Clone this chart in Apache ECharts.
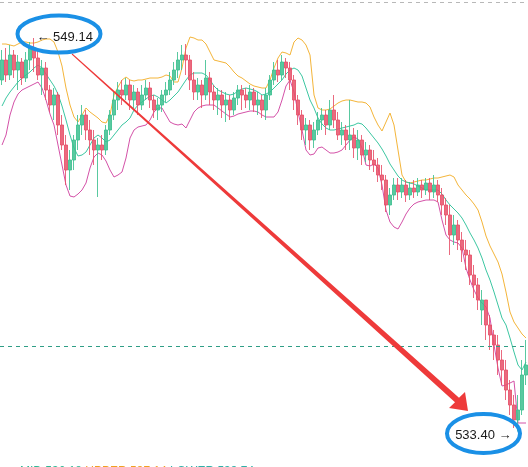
<!DOCTYPE html>
<html>
<head>
<meta charset="utf-8">
<script src="https://cdn.jsdelivr.net/npm/echarts@6/dist/echarts.min.js"></script>
<style>
html,body{margin:0;padding:0;background:#fff;}
#c{width:528px;height:467px;}
</style>
</head>
<body>
<div id="c"></div>
<script>
// [open, close, low, high]
const ohlc = [
[547.46,548.26,547.26,548.66],[548.26,547.66,547.38,548.74],[547.66,548.46,547.46,548.86],[548.46,547.86,547.54,548.66],
[547.86,548.18,547.06,548.46],[548.18,547.54,547.26,548.34],[547.54,548.26,547.38,548.58],[548.26,548.74,547.86,548.98],
[548.74,548.34,547.78,549.14],[548.34,547.66,547.46,548.66],[547.66,547.94,546.86,548.26],[547.94,547.06,546.66,548.18],
[547.06,546.46,546.18,547.26],[546.46,546.86,545.86,547.14],[546.86,545.66,545.26,546.98],[545.66,544.86,544.66,546.06],
[544.86,543.86,543.26,545.26],[543.86,544.26,543.06,544.66],[544.26,545.06,543.86,545.26],[545.06,545.66,544.66,546.06],
[545.66,546.06,545.26,546.46],[546.06,545.46,545.06,546.26],[545.46,545.06,544.46,545.86],[545.06,544.66,544.06,545.46],
[544.66,544.86,542.78,545.14],[544.86,544.66,544.26,545.26],[544.66,545.46,544.46,545.66],[545.46,546.06,545.26,546.26],
[546.06,546.66,545.86,546.98],[546.66,547.06,546.26,547.38],[547.06,546.86,546.46,547.46],[546.86,547.26,546.66,547.54],
[547.26,546.66,546.26,547.46],[546.66,546.98,546.34,547.26],[546.98,546.46,546.06,547.14],[546.46,546.86,546.26,547.26],
[546.86,547.14,546.66,547.46],[547.14,546.66,546.34,547.38],[546.66,546.26,545.94,546.86],[546.26,546.46,545.86,546.74],
[546.46,546.86,546.18,547.06],[546.86,547.06,546.58,547.38],[547.06,547.46,546.86,547.78],[547.46,547.86,547.26,548.18],
[547.86,548.26,547.54,548.58],[548.26,548.46,547.86,548.86],[548.46,548.26,547.66,548.90],[548.26,547.46,547.06,548.46],
[547.46,546.98,546.66,547.78],[546.98,547.26,546.66,547.54],[547.26,546.86,546.34,547.46],[546.86,547.54,546.66,548.26],
[547.54,546.98,546.46,547.78],[546.98,546.66,546.26,547.26],[546.66,546.86,546.06,547.14],[546.86,546.46,545.94,547.06],
[546.46,546.66,545.78,546.98],[546.66,546.26,545.86,546.86],[546.26,546.74,546.06,546.98],[546.74,547.06,546.46,547.26],
[547.06,546.86,546.26,547.26],[546.86,546.66,546.34,547.14],[546.66,546.98,546.26,547.26],[546.98,546.46,546.18,547.14],
[546.46,546.66,546.06,546.98],[546.66,546.26,545.94,546.86],[546.26,546.86,545.86,547.14],[546.86,547.46,546.66,547.66],
[547.46,547.86,547.26,548.18],[547.86,547.66,547.38,548.26],[547.66,548.18,547.46,548.46],[548.18,547.94,547.54,548.34],
[547.94,547.46,547.06,548.18],[547.46,546.66,546.26,547.66],[546.66,546.06,545.66,546.86],[546.06,545.46,545.06,546.26],
[545.46,545.66,544.86,545.94],[545.66,545.06,544.66,545.86],[545.06,545.46,544.74,545.78],[545.46,545.86,545.26,546.18],
[545.86,546.06,545.46,546.34],[546.06,545.66,545.26,546.26],[545.66,546.26,545.46,546.66],[546.26,545.86,545.54,546.86],
[545.86,545.26,545.06,546.18],[545.26,545.46,544.86,545.78],[545.46,545.06,544.66,545.66],[545.06,545.26,544.66,546.66],
[545.26,544.74,544.34,545.54],[544.74,545.06,544.26,545.46],[545.06,544.46,544.06,545.26],[544.46,544.66,544.18,544.98],
[544.66,544.26,543.86,544.86],[544.26,544.06,543.78,544.66],[544.06,543.66,543.38,544.34],[543.66,543.46,543.06,544.06],
[543.46,542.46,542.18,543.66],[542.46,542.86,542.06,543.14],[542.86,543.26,542.66,543.54],[543.26,542.98,542.66,543.54],
[542.98,543.26,542.74,543.54],[543.26,542.86,542.58,543.46],[542.86,543.14,542.66,543.38],[543.14,542.98,542.74,543.46],
[542.98,543.26,542.82,543.54],[543.26,543.06,542.74,543.46],[543.06,543.34,542.86,543.54],[543.34,542.98,542.66,543.54],
[542.98,543.26,542.74,543.66],[543.26,542.86,542.58,543.46],[542.86,542.46,542.06,543.14],[542.46,542.06,541.66,542.74],
[542.06,541.26,540.46,542.46],[541.26,541.66,540.86,542.06],[541.66,541.06,540.66,541.86],[541.06,540.66,540.18,541.38],
[540.66,540.46,539.86,541.06],[540.46,539.66,539.26,540.66],[539.66,539.26,538.74,540.06],[539.26,538.66,538.26,539.54],
[538.26,538.66,537.66,539.06],[538.66,537.66,537.06,538.66],[537.66,537.26,536.66,538.06],[537.26,536.86,536.26,537.46],
[536.86,536.26,535.66,537.26],[536.26,535.86,535.26,536.66],[535.86,535.06,534.66,536.26],[535.06,534.46,534.06,535.46],
[534.46,533.86,533.54,534.86],[533.86,534.26,533.40,534.86],[534.26,535.66,534.06,536.26],[535.66,536.06,535.26,537.06]
];
const upperBand = [
548.90,548.90,548.86,548.82,548.90,548.98,548.98,548.94,548.94,548.98,549.06,549.10,549.10,548.98,548.58,548.02,
547.14,546.46,545.98,545.78,546.06,546.34,546.18,546.06,545.94,545.78,545.74,546.06,546.86,547.18,547.46,547.58,
547.46,547.42,547.46,547.46,547.50,547.54,547.54,547.54,547.58,547.66,547.62,547.38,547.38,547.94,548.74,549.18,
549.14,549.06,549.06,548.90,548.58,548.26,548.22,548.18,548.14,547.98,547.78,547.62,547.54,547.42,547.30,547.22,
547.18,547.14,547.14,547.46,547.94,548.34,548.58,548.54,548.46,548.98,549.14,549.06,548.86,548.46,546.86,546.34,
546.26,546.26,546.30,546.42,546.54,546.62,546.66,546.66,546.62,546.58,546.58,546.54,546.38,545.98,545.66,545.42,
545.78,546.14,545.66,544.66,543.66,543.38,543.34,543.38,543.42,543.46,543.46,543.50,543.54,543.54,543.58,543.62,
543.66,543.58,543.26,543.06,542.86,542.70,542.50,542.26,541.78,541.22,540.82,540.50,540.18,539.70,538.98,538.18,
537.78,537.54,537.30,537.14
];
const midBand = [
546.42,546.74,546.98,547.18,547.38,547.54,547.66,547.78,547.94,548.06,547.94,547.70,547.46,547.22,546.90,546.42,
545.86,545.26,544.74,544.42,544.46,544.58,544.86,545.14,545.26,545.14,544.98,545.06,545.26,545.46,545.66,545.78,
545.94,546.26,546.46,546.58,546.70,546.82,546.86,546.78,546.66,546.54,546.66,546.82,546.98,547.22,547.46,547.66,
547.74,547.74,547.74,547.66,547.46,547.22,547.06,546.98,546.90,546.86,546.90,547.02,547.10,547.14,547.10,547.06,
546.98,546.86,546.90,546.98,547.14,547.30,547.46,547.70,547.86,547.94,547.86,547.62,547.14,546.66,546.34,545.94,
545.70,545.54,545.46,545.46,545.50,545.54,545.58,545.62,545.66,545.74,545.70,545.54,545.34,545.14,544.94,544.70,
544.42,544.10,543.86,543.62,543.46,543.38,543.34,543.30,543.22,543.14,543.06,543.06,543.06,543.06,542.90,542.66,
542.46,542.30,542.14,541.94,541.66,541.34,541.06,540.74,540.34,539.86,539.46,538.98,538.46,537.94,537.66,537.14,
536.58,536.06,535.86,536.18
];
const lowerBand = [
544.86,545.26,546.06,546.58,546.90,547.06,547.14,547.22,547.30,547.38,547.14,546.66,546.10,545.66,544.86,544.06,
543.26,542.82,542.78,542.90,543.06,543.34,543.94,544.38,544.54,544.46,544.22,543.86,543.58,543.66,543.78,544.34,
545.14,545.46,545.58,545.62,545.66,545.86,546.18,546.34,546.34,546.06,545.78,545.70,545.66,545.70,545.54,545.86,
546.18,546.34,546.42,546.46,546.46,546.46,546.34,546.22,546.10,545.98,546.02,546.10,546.14,546.18,546.22,546.22,
546.18,546.06,545.98,545.98,545.98,546.18,546.66,547.22,547.46,546.98,546.18,545.46,544.66,544.46,544.50,544.74,
544.78,544.66,544.54,544.54,544.58,544.66,544.86,545.06,545.18,545.10,544.74,544.06,544.02,544.10,543.94,543.26,
542.26,541.78,541.58,541.50,541.78,542.10,542.34,542.50,542.58,542.62,542.66,542.66,542.66,542.58,541.86,541.26,
541.06,540.98,540.94,540.74,539.94,539.46,539.06,538.74,538.54,538.38,537.94,536.86,535.94,535.22,535.26,535.34,
535.42,533.74,533.74,533.74
];
const refLevels = [550.58, 536.82];
const legendTexts = ['MID:536.18', 'UPPER:537.14', 'LOWER:533.74'];

const categories = ohlc.map((d, i) => String(i));
const chart = echarts.init(document.getElementById('c'));
const font = '"Liberation Sans", Arial, sans-serif';

chart.setOption({
  animation: false,
  backgroundColor: '#ffffff',
  grid: {left: 0, right: 0, top: 0, bottom: 0},
  xAxis: {type: 'category', data: categories, boundaryGap: true, show: false},
  yAxis: {type: 'value', min: 531.98, max: 550.66, show: false, splitLine: {show: false}},
  series: [
    {
      type: 'line', data: upperBand, symbol: 'none', smooth: false,
      lineStyle: {color: '#f4b53a', width: 1}, z: 2
    },
    {
      type: 'line', data: midBand, symbol: 'none',
      lineStyle: {color: '#3dc7a2', width: 1}, z: 2
    },
    {
      type: 'line', data: lowerBand, symbol: 'none',
      lineStyle: {color: '#d452a8', width: 1}, z: 2
    },
    {
      type: 'candlestick', data: ohlc, barWidth: 3, z: 3,
      itemStyle: {
        color: '#3cbf8f', color0: '#e65068',
        borderColor: '#3cbf8f', borderColor0: '#e65068', borderWidth: 1, opacity: 0.85
      },
      markLine: {
        silent: true, symbol: ['none', 'none'], label: {show: false},
        data: [
          {yAxis: refLevels[0], lineStyle: {color: '#b8b8b8', type: [4, 4], width: 1}},
          {yAxis: refLevels[1], lineStyle: {color: '#2f9e86', type: [4, 4], width: 1}}
        ]
      },
      markPoint: {
        symbol: 'circle', symbolSize: 1,
        itemStyle: {color: 'rgba(0,0,0,0)'},
        data: [
          {type: 'max', valueDim: 'highest',
           label: {show: true, position: 'right', distance: 2, offset: [0, -1], color: '#1a1a1a', fontSize: 13, fontFamily: font,
             formatter: p => '\u2190 ' + Number(p.value).toFixed(2)}},
          {type: 'min', valueDim: 'lowest',
           label: {show: true, position: 'left', distance: 6, offset: [0, 4], color: '#1a1a1a', fontSize: 13, fontFamily: font,
             formatter: p => Number(p.value).toFixed(2) + ' \u2192'}}
        ]
      }
    }
  ],
  graphic: [
    {
      type: 'polygon', z: 100,
      shape: {points: [[72.3,53.6],[459,397.8],[465,392],[468,411],[449,408],[455,402.2],[71.7,54.4]]},
      style: {fill: '#ee3a3a'}
    },
    {
      type: 'ellipse', z: 101,
      shape: {cx: 59, cy: 34, rx: 41.5, ry: 18.5},
      style: {fill: 'none', stroke: '#1a90e6', lineWidth: 4}
    },
    {
      type: 'ellipse', z: 101,
      shape: {cx: 483.5, cy: 433.5, rx: 36.5, ry: 19.5},
      style: {fill: 'none', stroke: '#1a90e6', lineWidth: 4}
    },
    {
      type: 'text', z: 50, left: 20, top: 466,
      style: {
        text: '{a|' + legendTexts[0] + '} {b|' + legendTexts[1] + '} {c|' + legendTexts[2] + '}',
        font: '12px ' + font,
        rich: {a: {fill: '#2fb894'}, b: {fill: '#f0a020'}, c: {fill: '#2fb0a8'}}
      }
    }
  ]
});
</script>
</body>
</html>
